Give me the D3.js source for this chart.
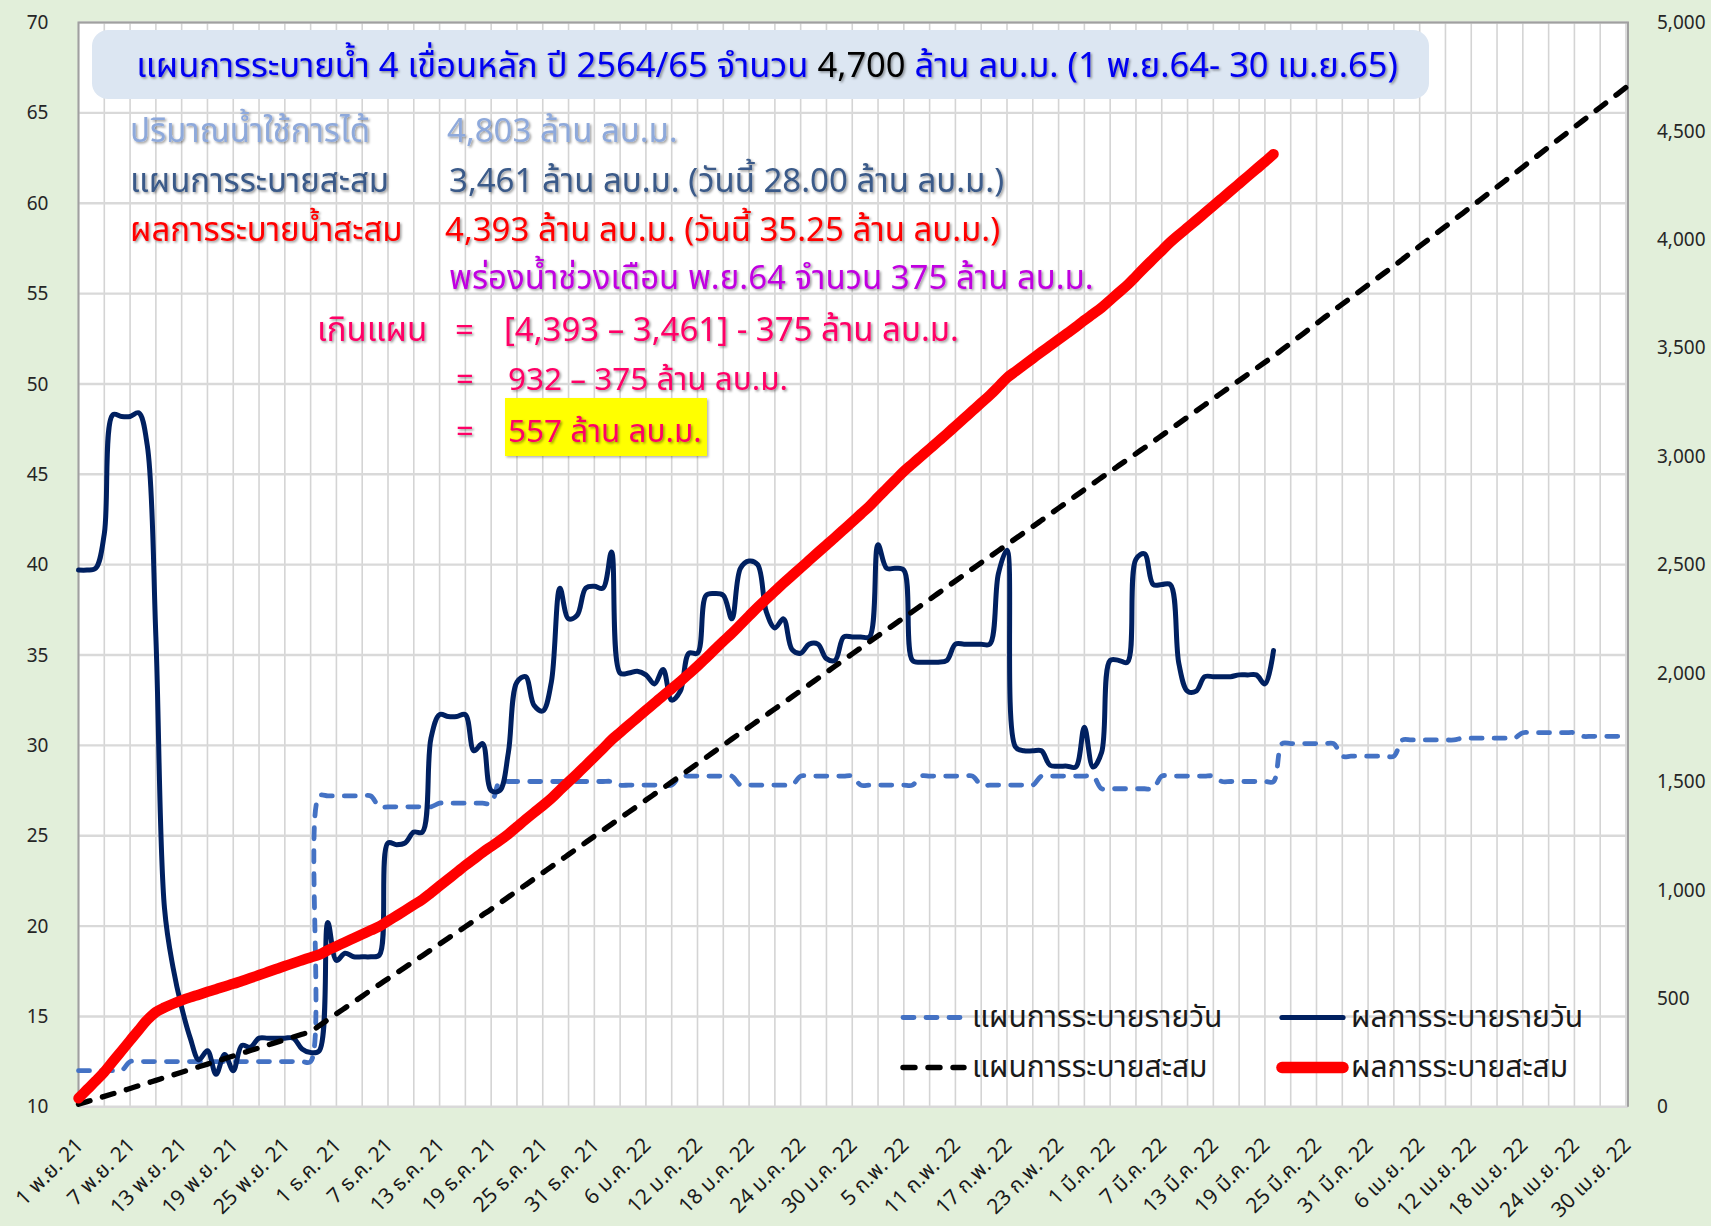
<!DOCTYPE html>
<html>
<head>
<meta charset="utf-8">
<script src="https://cdn.jsdelivr.net/npm/d3@7"></script>
<style>
  html, body { margin: 0; padding: 0; background: #E2EFDA; }
  svg { display: block; }
  text { white-space: pre; }
</style>
</head>
<body>
<svg id="chart" width="1711" height="1226"></svg>
<script>
// ---- data -------------------------------------------------------------
const startDate = new Date(2021, 10, 1);   // 1 Nov 2021
const endDate   = new Date(2022, 3, 30);   // 30 Apr 2022

const tickLabels = [
  "1 พ.ย. 21", "7 พ.ย. 21", "13 พ.ย. 21", "19 พ.ย. 21", "25 พ.ย. 21",
  "1 ธ.ค. 21", "7 ธ.ค. 21", "13 ธ.ค. 21", "19 ธ.ค. 21", "25 ธ.ค. 21", "31 ธ.ค. 21",
  "6 ม.ค. 22", "12 ม.ค. 22", "18 ม.ค. 22", "24 ม.ค. 22", "30 ม.ค. 22",
  "5 ก.พ. 22", "11 ก.พ. 22", "17 ก.พ. 22", "23 ก.พ. 22",
  "1 มี.ค. 22", "7 มี.ค. 22", "13 มี.ค. 22", "19 มี.ค. 22", "25 มี.ค. 22", "31 มี.ค. 22",
  "6 เม.ย. 22", "12 เม.ย. 22", "18 เม.ย. 22", "24 เม.ย. 22", "30 เม.ย. 22"
];
const leftTicks  = [10, 15, 20, 25, 30, 35, 40, 45, 50, 55, 60, 65, 70];
const rightTicks = [0, 500, 1000, 1500, 2000, 2500, 3000, 3500, 4000, 4500, 5000];

const seriesNames = ["แผนการระบายรายวัน", "ผลการระบายรายวัน", "แผนการระบายสะสม", "ผลการระบายสะสม"];

// daily release plan (million m3/day), one value per day from 1 Nov
const planDaily = [
  12.0, 12.0, 12.0, 12.0, 12.0, 12.0, 12.5,
  12.5, 12.5, 12.5, 12.5, 12.5, 12.5, 12.5,
  12.5, 12.5, 12.5, 12.5, 12.5, 12.5, 12.5,
  12.5, 12.5, 12.5, 12.5, 12.5, 12.5, 12.5,
  27.2, 27.2, 27.2, 27.2, 27.2, 27.2, 27.2,
  26.6, 26.6, 26.6, 26.6, 26.6, 26.6, 26.6,
  26.8, 26.8, 26.8, 26.8, 26.8, 26.8, 26.8,
  28.0, 28.0, 28.0, 28.0, 28.0, 28.0, 28.0,
  28.0, 28.0, 28.0, 28.0, 28.0, 28.0, 28.0,
  27.8, 27.8, 27.8, 27.8, 27.8, 27.8, 27.8,
  28.3, 28.3, 28.3, 28.3, 28.3, 28.3, 28.3,
  27.8, 27.8, 27.8, 27.8, 27.8, 27.8, 27.8,
  28.3, 28.3, 28.3, 28.3, 28.3, 28.3, 28.3,
  27.8, 27.8, 27.8, 27.8, 27.8, 27.8, 27.8,
  28.3, 28.3, 28.3, 28.3, 28.3, 28.3, 28.3,
  27.8, 27.8, 27.8, 27.8, 27.8, 27.8, 27.8,
  28.3, 28.3, 28.3, 28.3, 28.3, 28.3, 28.3,
  27.6, 27.6, 27.6, 27.6, 27.6, 27.6, 27.6,
  28.3, 28.3, 28.3, 28.3, 28.3, 28.3, 28.3,
  28.0, 28.0, 28.0, 28.0, 28.0, 28.0, 28.0,
  30.1, 30.1, 30.1, 30.1, 30.1, 30.1, 30.1,
  29.4, 29.4, 29.4, 29.4, 29.4, 29.4, 29.4,
  30.3, 30.3, 30.3, 30.3, 30.3, 30.3, 30.3,
  30.4, 30.4, 30.4, 30.4, 30.4, 30.4, 30.4,
  30.7, 30.7, 30.7, 30.7, 30.7, 30.7, 30.7,
  30.5, 30.5, 30.5, 30.5, 30.5, 30.5
];

// accumulated plan (million m3)
const planCumulative = [
  12.0, 24.0, 36.0, 48.0, 60.0, 72.0, 84.5,
  97.0, 109.5, 122.0, 134.5, 147.0, 159.5, 172.0,
  184.5, 197.0, 209.5, 222.0, 234.5, 247.0, 259.5,
  272.0, 284.5, 297.0, 309.5, 322.0, 334.5, 347.0,
  374.2, 401.4, 428.6, 455.8, 483.0, 510.2, 537.4,
  564.0, 590.6, 617.2, 643.8, 670.4, 697.0, 723.6,
  750.4, 777.2, 804.0, 830.8, 857.6, 884.4, 911.2,
  939.2, 967.2, 995.2, 1023.2, 1051.2, 1079.2, 1107.2,
  1135.2, 1163.2, 1191.2, 1219.2, 1247.2, 1275.2, 1303.2,
  1331.0, 1358.8, 1386.6, 1414.4, 1442.2, 1470.0, 1497.8,
  1526.1, 1554.4, 1582.7, 1611.0, 1639.3, 1667.6, 1695.9,
  1723.7, 1751.5, 1779.3, 1807.1, 1834.9, 1862.7, 1890.5,
  1918.8, 1947.1, 1975.4, 2003.7, 2032.0, 2060.3, 2088.6,
  2116.4, 2144.2, 2172.0, 2199.8, 2227.6, 2255.4, 2283.2,
  2311.5, 2339.8, 2368.1, 2396.4, 2424.7, 2453.0, 2481.3,
  2509.1, 2536.9, 2564.7, 2592.5, 2620.3, 2648.1, 2675.9,
  2704.2, 2732.5, 2760.8, 2789.1, 2817.4, 2845.7, 2874.0,
  2901.6, 2929.2, 2956.8, 2984.4, 3012.0, 3039.6, 3067.2,
  3095.5, 3123.8, 3152.1, 3180.4, 3208.7, 3237.0, 3265.3,
  3293.3, 3321.3, 3349.3, 3377.3, 3405.3, 3433.3, 3461.3,
  3491.4, 3521.5, 3551.6, 3581.7, 3611.8, 3641.9, 3672.0,
  3701.4, 3730.8, 3760.2, 3789.6, 3819.0, 3848.4, 3877.8,
  3908.1, 3938.4, 3968.7, 3999.0, 4029.3, 4059.6, 4089.9,
  4120.3, 4150.7, 4181.1, 4211.5, 4241.9, 4272.3, 4302.7,
  4333.4, 4364.1, 4394.8, 4425.5, 4456.2, 4486.9, 4517.6,
  4548.1, 4578.6, 4609.1, 4639.6, 4670.1, 4700.6
];

// actual daily release (million m3/day), 1 Nov - 20 Mar
const actualDaily = [
  39.7, 39.7, 39.8, 41.7, 48.3, 48.2, 48.2, 48.4, 46.6, 36.0,
  21.0, 17.7, 15.5, 13.8, 12.6, 13.1, 11.8, 12.9, 12.0, 13.4,
  13.3, 13.8, 13.8, 13.8, 13.8, 13.8, 13.2, 13.0, 13.1, 20.2,
  18.1, 18.5, 18.3, 18.3, 18.3, 18.4, 24.6, 24.5, 24.6, 25.2,
  25.2, 30.4, 31.7, 31.6, 31.6, 31.7, 29.7, 30.1, 27.5, 27.5,
  29.6, 33.5, 33.8, 32.2, 31.9, 33.5, 38.7, 37.0, 37.2, 38.7,
  38.8, 38.7, 40.7, 34.0, 34.0, 34.1, 33.9, 33.4, 34.2, 32.5,
  33.0, 35.1, 35.1, 38.3, 38.4, 38.3, 37.0, 39.8, 40.2, 40.0,
  37.4, 36.5, 37.0, 35.3, 35.1, 35.6, 35.6, 34.8, 34.7, 36.0,
  36.0, 36.0, 36.0, 41.1, 39.8, 39.8, 39.7, 34.7, 34.6, 34.6,
  34.6, 34.7, 35.6, 35.6, 35.6, 35.6, 35.6, 39.5, 40.8, 29.9,
  29.7, 29.7, 29.7, 28.9, 28.85, 28.85, 28.8, 31.0, 28.8, 29.6,
  34.7, 34.7, 34.6, 40.3, 40.6, 38.9, 38.9, 38.9, 34.5, 33.0,
  33.0, 33.8, 33.8, 33.8, 33.8, 33.9, 33.9, 33.9, 33.4, 35.25
];

// accumulated actual release (million m3)
const actualCumulative = [
  39.7, 79.4, 119.2, 160.9, 209.2, 257.4, 305.6, 354.0, 400.6, 436.6,
  457.6, 475.3, 490.8, 504.6, 517.2, 530.3, 542.1, 555.0, 567.0, 580.4,
  593.7, 607.5, 621.3, 635.1, 648.9, 662.7, 675.9, 688.9, 702.0, 722.2,
  740.3, 758.8, 777.1, 795.4, 813.7, 832.1, 856.7, 881.2, 905.8, 931.0,
  956.2, 986.6, 1018.3, 1049.9, 1081.5, 1113.2, 1142.9, 1173.0, 1200.5, 1228.0,
  1257.6, 1291.1, 1324.9, 1357.1, 1389.0, 1422.5, 1461.2, 1498.2, 1535.4, 1574.1,
  1612.9, 1651.6, 1692.3, 1726.3, 1760.3, 1794.4, 1828.3, 1861.7, 1895.9, 1928.4,
  1961.4, 1996.5, 2031.6, 2069.9, 2108.3, 2146.6, 2183.6, 2223.4, 2263.6, 2303.6,
  2341.0, 2377.5, 2414.5, 2449.8, 2484.9, 2520.5, 2556.1, 2590.9, 2625.6, 2661.6,
  2697.6, 2733.6, 2769.6, 2810.7, 2850.5, 2890.3, 2930.0, 2964.7, 2999.3, 3033.9,
  3068.5, 3103.2, 3138.8, 3174.4, 3210.0, 3245.6, 3281.2, 3320.7, 3361.5, 3391.4,
  3421.1, 3450.8, 3480.5, 3509.4, 3538.3, 3567.1, 3595.9, 3626.9, 3655.7, 3685.3,
  3720.0, 3754.7, 3789.3, 3829.6, 3870.2, 3909.1, 3948.0, 3986.9, 4021.4, 4054.4,
  4087.4, 4121.2, 4155.0, 4188.8, 4222.6, 4256.5, 4290.4, 4324.3, 4357.7, 4393.0
];

// ---- layout -----------------------------------------------------------
const W = 1711, H = 1226;
const plot = { left: 78.5, right: 1626, top: 22.5, bottom: 1106.8 };
const thai = "'Noto Sans Thai','Noto Sans Thai UI',Tahoma,'Leelawadee UI',Loma,Garuda,'Noto Sans',sans-serif";
const numFont = "'Noto Sans','Open Sans',sans-serif";

const colors = {
  planDaily: "#4472C4",
  actualDaily: "#002060",
  planCum: "#000000",
  actualCum: "#FF0000"
};

const svg = d3.select("#chart");

const defs = svg.append("defs");
defs.append("filter").attr("id", "shadow")
  .attr("x", "-5%").attr("y", "-30%").attr("width", "110%").attr("height", "160%")
  .append("feDropShadow")
  .attr("dx", 1.5).attr("dy", 1.5).attr("stdDeviation", 0.8)
  .attr("flood-color", "#000").attr("flood-opacity", 0.4);
defs.append("filter").attr("id", "boxShadow")
  .attr("x", "-10%").attr("y", "-20%").attr("width", "120%").attr("height", "140%")
  .append("feDropShadow")
  .attr("dx", 1.5).attr("dy", 1.5).attr("stdDeviation", 1)
  .attr("flood-color", "#000").attr("flood-opacity", 0.3);

svg.append("rect").attr("width", W).attr("height", H).attr("fill", "#E2EFDA");

// ---- scales -----------------------------------------------------------
const dates = d3.range(planDaily.length).map(i => d3.timeDay.offset(startDate, i));
const x  = d3.scaleTime().domain([startDate, endDate]).range([plot.left, plot.right]);
const yL = d3.scaleLinear().domain([10, 70]).range([plot.bottom, plot.top]);
const yR = d3.scaleLinear().domain([0, 5000]).range([plot.bottom, plot.top]);

// plot area
svg.append("rect")
  .attr("x", plot.left).attr("y", plot.top)
  .attr("width", plot.right + 2 - plot.left).attr("height", plot.bottom - plot.top)
  .attr("fill", "#FFFFFF");

// vertical gridlines every three days
const gridDates = d3.range(0, planDaily.length, 3).map(i => d3.timeDay.offset(startDate, i));
svg.append("g").selectAll("line").data(gridDates).join("line")
  .attr("x1", d => x(d)).attr("x2", d => x(d))
  .attr("y1", plot.top).attr("y2", plot.bottom)
  .attr("stroke", "#D4D4D4").attr("stroke-width", 1.6);

// horizontal gridlines
svg.append("g").selectAll("line").data(leftTicks).join("line")
  .attr("x1", plot.left).attr("x2", plot.right + 2)
  .attr("y1", d => yL(d)).attr("y2", d => yL(d))
  .attr("stroke", "#D9D9D9").attr("stroke-width", 2.4);

// plot frame
svg.append("path")
  .attr("d", `M${plot.left},${plot.bottom}V${plot.top}H${plot.right + 2}V${plot.bottom}`)
  .attr("fill", "none").attr("stroke", "#A0A0A0").attr("stroke-width", 2);

// ---- axes -------------------------------------------------------------
const axL = svg.append("g").attr("transform", `translate(${plot.left},0)`)
  .call(d3.axisLeft(yL).tickValues(leftTicks).tickSize(0).tickPadding(30));
axL.select(".domain").remove();
axL.selectAll("text").attr("font-family", numFont).attr("font-size", 19).attr("fill", "#262626");

const axR = svg.append("g").attr("transform", `translate(${plot.right + 2},0)`)
  .call(d3.axisRight(yR).tickValues(rightTicks).tickFormat(d3.format(",")).tickSize(0).tickPadding(29));
axR.select(".domain").remove();
axR.selectAll("text").attr("font-family", numFont).attr("font-size", 19).attr("fill", "#262626");

const tickDates = tickLabels.map((_, i) => d3.timeDay.offset(startDate, i * 6));
const axB = svg.append("g").attr("transform", `translate(0,${plot.bottom})`)
  .call(d3.axisBottom(x).tickValues(tickDates).tickFormat((d, i) => tickLabels[i]).tickSize(0));
axB.select(".domain").remove();
axB.selectAll("text")
  .attr("x", null).attr("y", null).attr("dy", null)
  .attr("text-anchor", "end")
  .attr("dominant-baseline", "central")
  .attr("transform", "translate(1,35) rotate(-45)")
  .attr("font-family", thai).attr("font-size", 21).attr("fill", "#1a1a1a");

// ---- series -----------------------------------------------------------
const curve = d3.curveCatmullRom.alpha(0.5);
const lineL = d3.line().x((d, i) => x(dates[i])).y(d => yL(d)).curve(curve);
const lineR = d3.line().x((d, i) => x(dates[i])).y(d => yR(d)).curve(curve);

const series = svg.append("g").attr("fill", "none");

series.append("path").datum(planDaily)
  .attr("d", lineL)
  .attr("stroke", colors.planDaily).attr("stroke-width", 4.8)
  .attr("stroke-dasharray", "11,12").attr("stroke-linecap", "round");

series.append("path").datum(actualDaily)
  .attr("d", lineL)
  .attr("stroke", colors.actualDaily).attr("stroke-width", 5)
  .attr("stroke-linejoin", "round").attr("stroke-linecap", "round");

series.append("path").datum(planCumulative)
  .attr("d", lineR)
  .attr("stroke", colors.planCum).attr("stroke-width", 5.4)
  .attr("stroke-dasharray", "12,13").attr("stroke-linecap", "round");

series.append("path").datum(actualCumulative)
  .attr("d", lineR)
  .attr("stroke", colors.actualCum).attr("stroke-width", 10.5)
  .attr("stroke-linejoin", "round").attr("stroke-linecap", "round");

// ---- legend -----------------------------------------------------------
const legendItems = [
  { name: seriesNames[0], x: 900, y: 1017.5, stroke: colors.planDaily, w: 4.8, dash: "11,12" },
  { name: seriesNames[2], x: 900, y: 1067.5, stroke: colors.planCum, w: 5.4, dash: "12,13" },
  { name: seriesNames[1], x: 1279, y: 1017.5, stroke: colors.actualDaily, w: 5.2, dash: null },
  { name: seriesNames[3], x: 1279, y: 1067.5, stroke: colors.actualCum, w: 11.5, dash: null }
];
const lg = svg.append("g");
legendItems.forEach(it => {
  lg.append("line")
    .attr("x1", it.x + 3).attr("x2", it.x + 64)
    .attr("y1", it.y).attr("y2", it.y)
    .attr("stroke", it.stroke).attr("stroke-width", it.w)
    .attr("stroke-linecap", "round")
    .attr("stroke-dasharray", it.dash);
  lg.append("text")
    .attr("x", it.x + 72).attr("y", it.y + 9)
    .attr("font-family", thai).attr("font-size", 30).attr("fill", "#1a1a1a")
    .text(it.name);
});

// ---- title box --------------------------------------------------------
svg.append("rect")
  .attr("x", 92).attr("y", 30).attr("width", 1337).attr("height", 69).attr("rx", 16)
  .attr("fill", "#DCE6F2");

const title = svg.append("text")
  .attr("x", 767).attr("y", 77).attr("text-anchor", "middle")
  .attr("font-family", thai).attr("font-size", 34.5).attr("fill", "#0000F0")
  .attr("filter", "url(#shadow)");
title.append("tspan").text("แผนการระบายน้ำ 4 เขื่อนหลัก ปี 2564/65 จำนวน ");
title.append("tspan").attr("fill", "#000000").text("4,700");
title.append("tspan").text(" ล้าน ลบ.ม. (1 พ.ย.64- 30 เม.ย.65)");

// ---- summary text -----------------------------------------------------
// highlight box behind the final result
svg.append("rect")
  .attr("x", 505).attr("y", 398).attr("width", 202).attr("height", 58)
  .attr("fill", "#FFFF00").attr("filter", "url(#boxShadow)");

const notes = svg.append("g").attr("font-family", thai).attr("font-size", 33)
  .attr("filter", "url(#shadow)");
function note(xp, yp, color, str, size) {
  const t = notes.append("text").attr("x", xp).attr("y", yp).attr("fill", color).text(str);
  if (size) t.attr("font-size", size);
  return t;
}
note(130, 142, "#8EA9DB", "ปริมาณน้ำใช้การได้");
note(447, 142, "#8EA9DB", "4,803 ล้าน ลบ.ม.");
note(130, 192, "#3A5A89", "แผนการระบายสะสม");
note(449, 192, "#3A5A89", "3,461 ล้าน ลบ.ม. (วันนี้ 28.00 ล้าน ลบ.ม.)");
note(130, 241, "#FF0000", "ผลการระบายน้ำสะสม");
note(445, 241, "#FF0000", "4,393 ล้าน ลบ.ม. (วันนี้ 35.25 ล้าน ลบ.ม.)");
note(449, 289, "#C000E0", "พร่องน้ำช่วงเดือน พ.ย.64 จำนวน 375 ล้าน ลบ.ม.");

const pink = "#FF0066";
note(317, 341, pink, "เกินแผน");
note(455, 341, pink, "=");
note(504, 341, pink, "[4,393 – 3,461] - 375 ล้าน ลบ.ม.");
note(456, 390, pink, "=", 31);
note(508, 390, pink, "932 – 375 ล้าน ลบ.ม.", 31.5);
note(456, 442, pink, "=", 31);
note(508, 442, pink, "557 ล้าน ลบ.ม.", 31.5);
</script>
</body>
</html>
